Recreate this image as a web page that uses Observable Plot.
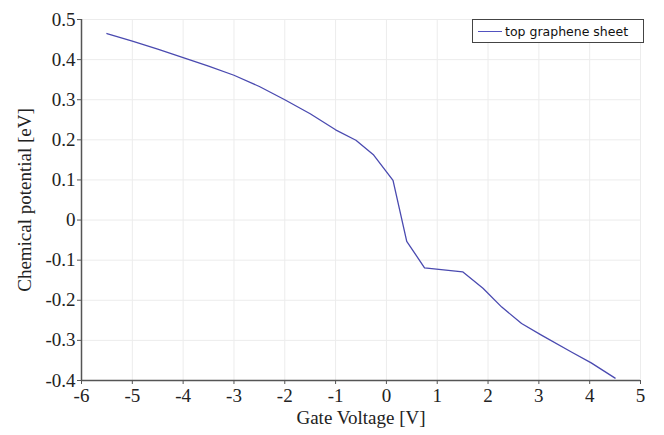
<!DOCTYPE html>
<html>
<head>
<meta charset="utf-8">
<script src="https://cdn.jsdelivr.net/npm/d3@7"></script>
<script src="https://cdn.jsdelivr.net/npm/@observablehq/plot@0.6"></script>
<style>
  html, body { margin: 0; padding: 0; background: #fff; }
  #wrap { position: relative; width: 664px; height: 435px; }
  #legend {
    position: absolute; left: 472px; top: 19px; width: 170px; height: 22px;
    border: 1px solid #444; background: #fff; box-sizing: content-box;
    font-family: "DejaVu Sans", Verdana, sans-serif; font-size: 12.5px; color: #111;
    display: flex; align-items: center;
  }
  #legend .sw { width: 24px; height: 0; border-top: 1.5px solid #5252c0; margin-left: 5px; margin-right: 3px; }
</style>
</head>
<body>
<div id="wrap">
  <div id="chart"></div>
  <div id="legend"><span class="sw"></span><span>top graphene sheet</span></div>
</div>
<script>
// Data
const gateVoltage = [-5.5, -5, -4.5, -4, -3.5, -3, -2.5, -2, -1.5, -1, -0.6, -0.25, 0.13, 0.4, 0.75, 1.5, 1.9, 2.27, 2.66, 3.05, 3.64, 4.03, 4.5];
const chemPotential = [0.465, 0.446, 0.426, 0.405, 0.384, 0.361, 0.333, 0.30, 0.265, 0.225, 0.199, 0.162, 0.099, -0.053, -0.119, -0.129, -0.170, -0.217, -0.258, -0.287, -0.329, -0.356, -0.394];
const xTicks = [-6, -5, -4, -3, -2, -1, 0, 1, 2, 3, 4, 5];
const yTicks = [-0.4, -0.3, -0.2, -0.1, 0, 0.1, 0.2, 0.3, 0.4, 0.5];
const xLabels = ["-6", "-5", "-4", "-3", "-2", "-1", "0", "1", "2", "3", "4", "5"];
const yLabels = ["-0.4", "-0.3", "-0.2", "-0.1", "0", "0.1", "0.2", "0.3", "0.4", "0.5"];
const xTitle = "Gate Voltage [V]";
const yTitle = "Chemical potential [eV]";
const seriesName = "top graphene sheet";

const data = gateVoltage.map((v, i) => ({v, mu: chemPotential[i]}));
const xTickData = xTicks.map((v, i) => ({v, label: xLabels[i]}));
const yTickData = yTicks.map((v, i) => ({v, label: yLabels[i]}));
const FONT = "Liberation Serif, Times New Roman, serif";
const X0 = xTicks[0], Y0 = yTicks[0];

const chart = Plot.plot({
  width: 664,
  height: 435,
  marginLeft: 81,
  marginRight: 24,
  marginTop: 19,
  marginBottom: 55,
  style: "font-family: 'Liberation Serif', serif; font-size: 19px; color: #222; background: #fff;",
  x: {type: "linear", domain: [-6, 5], axis: null},
  y: {type: "linear", domain: [-0.4, 0.5], axis: null},
  marks: [
    Plot.ruleX(xTicks, {stroke: "#ececec"}),
    Plot.ruleY(yTicks, {stroke: "#ececec"}),
    Plot.ruleX(xTicks, {x: d => d, y1: Y0, y2: Y0, insetBottom: -4, stroke: "#555"}),
    Plot.ruleY(yTicks, {y: d => d, x1: X0, x2: X0, insetLeft: -4, stroke: "#555"}),
    Plot.text(xTickData, {x: "v", y: () => Y0, text: "label", lineAnchor: "top", dy: 8,
      fontFamily: FONT, fontSize: 19, fill: "#222"}),
    Plot.text(yTickData, {x: () => X0, y: "v", text: "label", textAnchor: "end", dx: -6,
      fontFamily: FONT, fontSize: 19, fill: "#222"}),
    Plot.text([xTitle], {frameAnchor: "bottom", text: d => d, dy: 30, lineAnchor: "top", textAnchor: "middle",
      fontFamily: FONT, fontSize: 19, fill: "#222"}),
    Plot.text([yTitle], {frameAnchor: "left", text: d => d, rotate: -90, dx: -57, textAnchor: "middle", lineAnchor: "middle",
      fontFamily: FONT, fontSize: 19, fill: "#222"}),
    Plot.ruleX([X0], {stroke: "#555", strokeWidth: 1.5}),
    Plot.ruleY([Y0], {stroke: "#555", strokeWidth: 1.5}),
    Plot.line(data, {x: "v", y: "mu", stroke: "#4a4ab0", strokeWidth: 1.3, title: () => seriesName})
  ]
});
document.getElementById("chart").appendChild(chart);
</script>
</body>
</html>
